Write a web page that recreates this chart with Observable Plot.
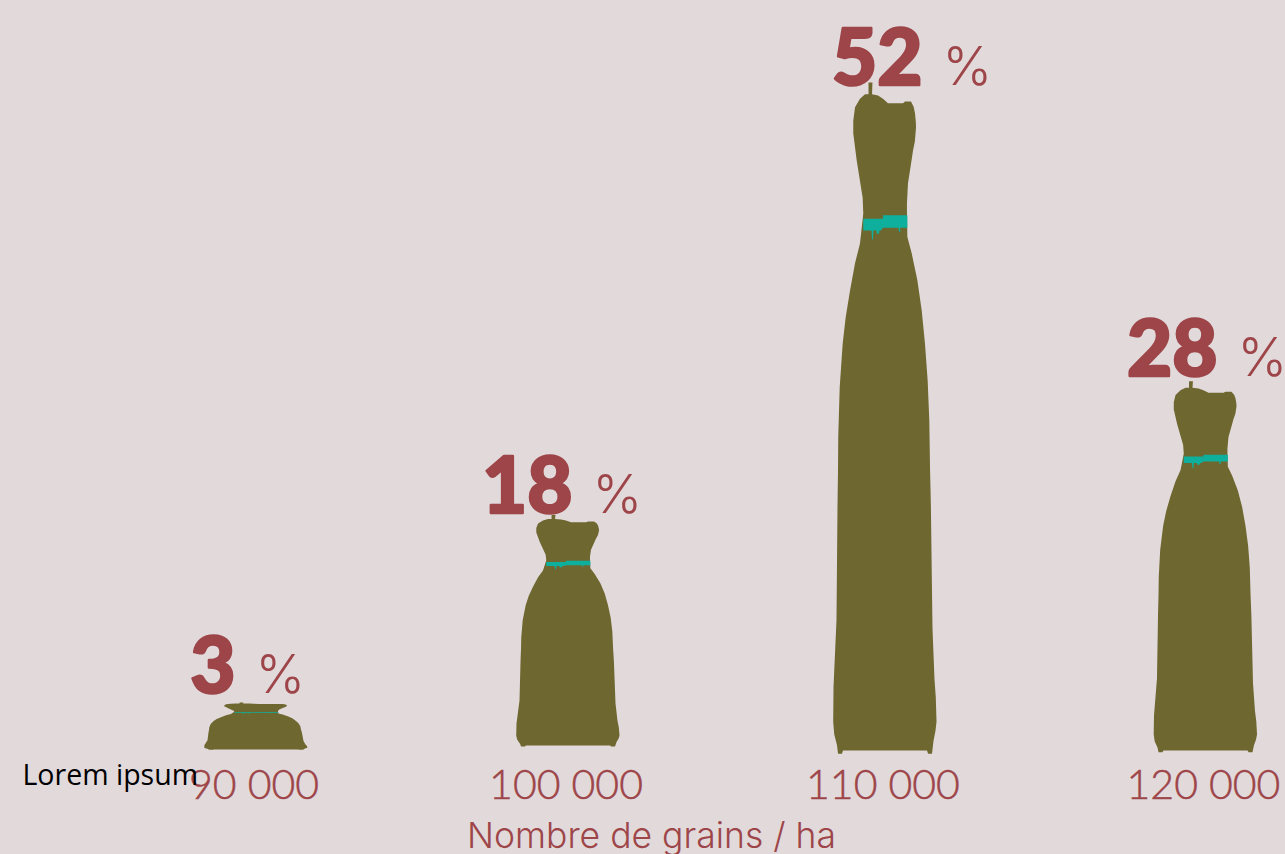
<!DOCTYPE html>
<html><head><meta charset="utf-8">
<script src="https://cdn.jsdelivr.net/npm/d3@7"></script>
<script src="https://cdn.jsdelivr.net/npm/@observablehq/plot@0.6"></script>
<style>html,body{margin:0;padding:0;background:#e2d9db;overflow:hidden}svg{display:block}
.ticklabels text{stroke:#9d4548;stroke-width:.5px}</style>
</head><body><div id="chart"></div>
<script>
// Values
const grains = [90000, 100000, 110000, 120000];
const tickLabels = ["90 000", "100 000", "110 000", "120 000"];
const shares = [3, 18, 52, 28];
// Bag placement, in grains and in percentage points
const bagCentres = [90000, 99853, 109863, 119984];
const bagBase = [0.08, 0.4, 0, 0];
const bagHead = [3.73, 18.34, 52, 28.74];
const bagWidth = 3253;
const labelX = [89779, 100421, 111474, 120789];
const labelY = [4.6, 18.89, 52.87, 29.77];
// Shared outline of a bag: % of bag width from centre, % of bag height from base
const sackX = [-15.5,-11.7,-12.1,-6.3,-1.5,3.4,18,19.9,25.7,28.3,29.6,30.4,30.6,29.5,27.7,25.2,22.8,21.8,21.8,22.2,26.4,31.9,36.1,39.3,41.9,43.5,44.2,45,46.6,48.5,49.8,50.5,49.5,47.6,46.1,42.3,41.3,-40.3,-41.3,-45.1,-46.1,-48.8,-49.8,-49.5,-46.6,-45.6,-45.1,-44.9,-43.5,-40.6,-37.7,-33.5,-28.6,-23.8,-20.6,-21.2,-27,-30.3,-30.3,-28.6,-23.8,-18.9,-15.5,-15.5];
const sackY = [102,102,100.2,100,99.5,98.8,98.8,99.1,99.1,98.3,97.3,96,95.1,93,91.6,89,86.6,83.5,82,78.4,75.9,71.8,67.2,62.1,56.5,50.4,43.1,37.6,18.6,11,8.1,4.4,3,1.5,-0.5,-0.5,0,0,-0.5,-0.5,0.8,2.5,4.4,9.7,19.9,37.6,43.1,47.8,55.4,62.1,66.1,70.2,74.4,77.4,82,84.4,90.1,94.2,96.2,98.2,99.5,100.2,100.2,102];
const tieX = [-20.6,-1.5,-1.5,22.2,22.2,15,15.5,14.1,13.6,-1.5,-3.4,-4.9,-5.3,-7.6,-7.8,-10.7,-11.2,-12.1,-12.6,-20.6,-20.6];
const tieY = [81.2,81.2,81.7,81.7,79.8,79.8,79.2,79.2,79.8,79.8,79.4,79.4,78.9,78.9,79.4,79.4,78,78,79.4,79.4,81.2];

const red = "#9d4548";

function outline(xs, ys) {
  return grains.flatMap((g, b) => xs.map((sx, i) => ({
    bag: g,
    x: bagCentres[b] + sx / 100 * bagWidth,
    y: bagBase[b] + ys[i] / 100 * (bagHead[b] - bagBase[b])
  })));
}
const rows = grains.map((g, i) => ({g, share: shares[i], x: labelX[i], y: labelY[i]}));

const plot = Plot.plot({
  width: 1285, height: 854,
  marginTop: 0, marginRight: 0, marginLeft: 0, marginBottom: 100,
  style: {background: "#e2d9db", overflow: "visible"},
  x: {type: "linear", domain: [90000, 120000], range: [255, 1205]},
  y: {type: "linear", domain: [0, 52], range: [750, 95], axis: null},
  marks: [
    Plot.line(outline(sackX, sackY), {x: "x", y: "y", z: "bag", fill: "#6e672f", stroke: null}),
    Plot.line(outline(tieX, tieY), {x: "x", y: "y", z: "bag", fill: "#0eb09d", stroke: null}),
    Plot.axisX(bagCentres, {
      tickSize: 0, tickPadding: 15, label: null, className: "ticklabels",
      tickFormat: d => tickLabels[bagCentres.indexOf(d)],
      fontSize: 41, fontWeight: 300, fontFamily: "Lato, sans-serif", fill: red, dx: -1.5
    }),
    Plot.text(rows, {x: "x", y: "y", text: d => String(d.share), textAnchor: "end", lineAnchor: "bottom", dx: -13, fontSize: 78, fontWeight: 900, fontFamily: "Lato, sans-serif", fill: red, stroke: red, strokeWidth: 2.5}),
    Plot.text(rows, {x: "x", y: "y", text: () => "%", textAnchor: "start", lineAnchor: "bottom", dx: 7, fontSize: 53, fontWeight: 300, fontFamily: "Inter, sans-serif", fill: red}),
    Plot.text(["Nombre de grains / ha"], {x: 102505, y: -7.78, lineAnchor: "bottom", fontSize: 35.5, fontWeight: 300, fontFamily: "Inter, sans-serif", fill: red}),
    Plot.text(["Lorem ipsum"], {x: 82642, y: -2.7, textAnchor: "start", lineAnchor: "bottom", fontSize: 28.5, fontFamily: "'Open Sans', sans-serif", fill: "#000"})
  ]
});
document.getElementById("chart").append(plot);
</script></body></html>
